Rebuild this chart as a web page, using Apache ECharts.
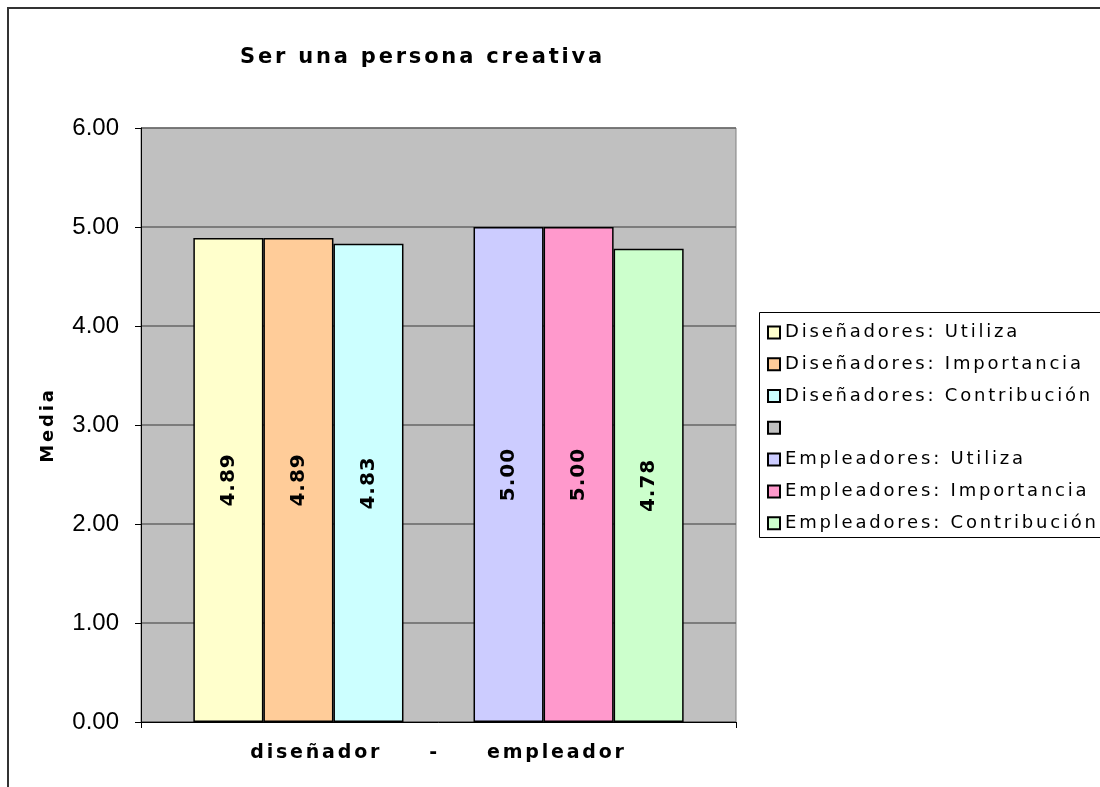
<!DOCTYPE html>
<html>
<head>
<meta charset="utf-8">
<script src="https://cdn.jsdelivr.net/npm/echarts@6/dist/echarts.min.js"></script>
<style>html,body{margin:0;padding:0;background:#fff;}#c{width:1100px;height:787px;}</style>
<script>
// Excel-style wide tracking for the chart text (not for the value-axis tick labels)
(function () {
  var proto = CanvasRenderingContext2D.prototype;
  var desc = Object.getOwnPropertyDescriptor(proto, 'font');
  if (!desc || !('letterSpacing' in proto)) return;
  Object.defineProperty(proto, 'font', {
    configurable: true,
    get: function () { return desc.get.call(this); },
    set: function (v) {
      desc.set.call(this, v);
      this.letterSpacing = /\b24px/.test(v) ? '0px' : (/\b20px/.test(v) ? '1px' : '2.8px');
    }
  });
})();
</script>
</head>
<body>
<div id="c"></div>
<script>
const titleText = 'Ser una persona creativa';
const categories = ['diseñador     -     empleador'];
const yAxisName = 'Media';
const seriesNames = ['Diseñadores: Utiliza', 'Diseñadores: Importancia', 'Diseñadores: Contribución', ' ', 'Empleadores: Utiliza', 'Empleadores: Importancia', 'Empleadores: Contribución'];
const seriesValues = [[4.89], [4.89], [4.83], [null], [5.00], [5.00], [4.78]];
const seriesColors = ['#FFFFCC', '#FFCC99', '#CCFFFF', '#C0C0C0', '#CCCCFF', '#FF99CC', '#CCFFCC'];
const yTicks = [0, 1, 2, 3, 4, 5, 6];

const FONT = 'Arial, "Liberation Sans", sans-serif';
const WIDE = '"DejaVu Sans", Verdana, sans-serif';
const chart = echarts.init(document.getElementById('c'), null, {renderer: 'canvas'});
const series = seriesNames.map((n, i) => ({
  name: n,
  type: 'bar',
  data: seriesValues[i],
  barGap: '0%',
  barCategoryGap: '17.6%',
  itemStyle: {color: seriesColors[i], borderColor: '#000', borderWidth: 1.5},
  label: {
    show: true, position: 'inside', rotate: 90,
    fontFamily: WIDE, fontWeight: 'bold', fontSize: 20, color: '#000',
    formatter: p => (p.value == null ? '' : Number(p.value).toFixed(2))
  },
  emphasis: {disabled: true},
  animation: false
}));

chart.setOption({
  animation: false,
  backgroundColor: '#fff',
  graphic: [
    {type: 'rect', x: 8, y: 8, shape: {x: 0, y: 0, width: 1200, height: 900}, style: {fill: 'none', stroke: '#333', lineWidth: 2}, silent: true, z: 100},
    {type: 'rect', x: 759.5, y: 312.5, shape: {x: 0, y: 0, width: 400, height: 225}, style: {fill: 'none', stroke: '#000', lineWidth: 1}, silent: true, z: 100}
  ],
  title: {
    text: titleText, left: 240, top: 46, padding: 0,
    textStyle: {fontFamily: WIDE, fontWeight: 'bold', fontSize: 21, color: '#000'}
  },
  legend: {
    orient: 'vertical', left: 759, top: 312, padding: [10, 8, 8, 8],
    itemWidth: 12, itemHeight: 12, itemGap: 11,
    icon: 'rect',
    data: seriesNames,
    selectedMode: false,
    textStyle: {fontFamily: WIDE, fontSize: 18, color: '#000', lineHeight: 18}
  },
  grid: {
    left: 141, top: 128, width: 595, height: 594,
    show: true, backgroundColor: '#C0C0C0', borderColor: '#808080', borderWidth: 1,
    containLabel: false
  },
  xAxis: {
    type: 'category', data: categories,
    axisLine: {show: true, lineStyle: {color: '#000', width: 1}},
    axisTick: {show: true, length: 6, alignWithLabel: false, lineStyle: {color: '#000'}},
    axisLabel: {fontFamily: WIDE, fontWeight: 'bold', fontSize: 19, color: '#000', margin: 20}
  },
  yAxis: {
    type: 'value', min: yTicks[0], max: yTicks[yTicks.length - 1], interval: 1,
    name: yAxisName, nameLocation: 'middle', nameRotate: 90, nameGap: 82,
    nameTextStyle: {fontFamily: WIDE, fontWeight: 'bold', fontSize: 18, color: '#000'},
    axisLine: {show: true, lineStyle: {color: '#000', width: 1}},
    axisTick: {show: true, length: 6, lineStyle: {color: '#000'}},
    axisLabel: {fontFamily: FONT, fontSize: 24, color: '#000', margin: 22, formatter: v => v.toFixed(2)},
    splitLine: {show: true, lineStyle: {color: '#666', width: 1.5}}
  },
  series: series
});
</script>
</body>
</html>
